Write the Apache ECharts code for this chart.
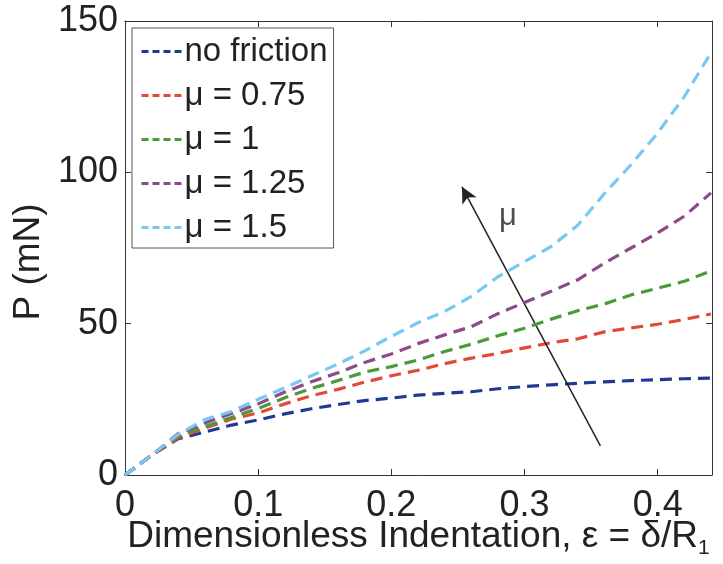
<!DOCTYPE html>
<html>
<head>
<meta charset="utf-8">
<script src="https://cdn.jsdelivr.net/npm/echarts@6/dist/echarts.min.js"></script>
<style>
  html, body { margin: 0; padding: 0; background: #fff; }
  #chart { width: 723px; height: 564px; }
</style>
</head>
<body>
<div id="chart"></div>
<script>
// Indentation strain (shared x positions)
const strain = [0, 0.02, 0.04, 0.06, 0.08, 0.10, 0.12, 0.14, 0.16, 0.18, 0.20, 0.22,
                0.24, 0.26, 0.28, 0.30, 0.32, 0.34, 0.36, 0.38, 0.40, 0.42, 0.44];

// Load P (mN) for each friction case
const loadNoFriction = [0, 6.5, 12, 14.2, 16.5, 18.2, 20.2, 21.9, 23.3, 24.6, 25.4, 26.4,
                        27, 27.5, 28.5, 29.2, 29.8, 30.3, 30.8, 31.2, 31.5, 31.8, 32];
const loadMu075 = [0, 6.5, 12.3, 15.5, 18.5, 20.5, 23.5, 26.2, 28.3, 30.7, 32.8, 34.6,
                   36.8, 38.6, 40.2, 42, 43.7, 45, 47.3, 48.6, 49.8, 51.4, 53.2];
const loadMu1 = [0, 6.5, 13, 16, 19, 22, 25.5, 28.6, 31.2, 34, 35.8, 38,
                 40.8, 43.2, 46, 48.5, 51.5, 54.3, 56.5, 59.5, 61.7, 64, 67.4];
const loadMu125 = [0, 6.5, 13.7, 17.2, 20.3, 23.5, 27.4, 30.8, 33.8, 37.2, 40, 43.4,
                   46.3, 49, 53.3, 57, 60.7, 64.5, 70, 75, 80, 85.5, 93.2];
const loadMu15 = [0, 6.5, 13.5, 18.3, 21, 25, 28.8, 32.8, 36.7, 41, 45.8, 50.3,
                  54, 59, 65.5, 70.5, 75.5, 82.5, 93, 102.5, 113, 125, 139.5];

const seriesNames = ['no friction', 'μ = 0.75', 'μ = 1', 'μ = 1.25', 'μ = 1.5'];
const seriesColors = ['#203a94', '#e24a38', '#4b9a3a', '#8b4a88', '#78c8f6'];
const seriesLoads = [loadNoFriction, loadMu075, loadMu1, loadMu125, loadMu15];

// Axis ticks
const xTicks = { min: 0, max: 0.4408, interval: 0.1 };
const yTicks = { min: 0, max: 150, interval: 50 };

// Trend arrow (direction of increasing friction) and its label, in data units
const arrowFrom = [0.357, 9.6];
const arrowTo = [0.253, 95.2];
const arrowLabelAt = [0.2876, 85.5];
const arrowLabel = 'μ';

const FONT = '"Liberation Sans", Arial, Helvetica, sans-serif';
const axisColor = '#333';

const curveSeries = seriesNames.map((name, i) => ({
  name: name,
  type: 'line',
  xAxisIndex: 0,
  yAxisIndex: 0,
  symbol: 'none',
  smooth: false,
  color: seriesColors[i],
  lineStyle: { width: 3.2, type: [12, 7], color: seriesColors[i] },
  data: strain.map((x, k) => [x, seriesLoads[i][k]]),
  z: 3 + i
}));

const chart = echarts.init(document.getElementById('chart'), null, { renderer: 'canvas' });

const option = {
  backgroundColor: '#fff',
  animation: false,
  textStyle: { fontFamily: FONT },
  grid: { left: 125, right: 11, top: 21, bottom: 89, containLabel: false, outerBoundsMode: 'none' },
  legend: {
    data: seriesNames,
    orient: 'vertical',
    left: 132,
    top: 28,
    padding: [7, 6, 4, 8],
    itemGap: 11,
    itemWidth: 42,
    itemHeight: 14,
    backgroundColor: '#fff',
    borderColor: '#555',
    borderWidth: 1,
    borderRadius: 0,
    itemStyle: { opacity: 0 },
    lineStyle: { width: 3, type: [7, 4] },
    textStyle: { fontFamily: FONT, fontSize: 33, color: '#222', padding: [0, 0, 0, -4] },
    selectedMode: false
  },
  xAxis: [
    {
      type: 'value', position: 'bottom',
      min: xTicks.min, max: xTicks.max, interval: xTicks.interval,
      axisLine: { show: true, onZero: false, lineStyle: { color: axisColor, width: 1 } },
      axisTick: { show: true, inside: true, length: 6, lineStyle: { color: axisColor } },
      splitLine: { show: false },
      axisLabel: { fontSize: 36, color: '#222', margin: 13, showMaxLabel: false, fontFamily: FONT },
      name: '{t|Dimensionless Indentation, ε = δ/R}{s|1}',
      nameLocation: 'middle',
      nameGap: 39,
      nameMoveOverlap: false,
      nameTextStyle: {
        rich: {
          t: { fontSize: 37, color: '#222', fontFamily: FONT },
          s: { fontSize: 21, color: '#222', fontFamily: FONT, padding: [24, 0, 0, 0] }
        }
      }
    },
    {
      type: 'value', position: 'top',
      min: xTicks.min, max: xTicks.max, interval: xTicks.interval,
      axisLine: { show: true, onZero: false, lineStyle: { color: axisColor, width: 1 } },
      axisTick: { show: true, inside: true, length: 6, lineStyle: { color: axisColor } },
      axisLabel: { show: false },
      splitLine: { show: false }
    }
  ],
  yAxis: [
    {
      type: 'value', position: 'left',
      min: yTicks.min, max: yTicks.max, interval: yTicks.interval,
      axisLine: { show: true, onZero: false, lineStyle: { color: axisColor, width: 1 } },
      axisTick: { show: true, inside: true, length: 6, lineStyle: { color: axisColor } },
      splitLine: { show: false },
      axisLabel: { fontSize: 36, color: '#222', margin: 7, fontFamily: FONT },
      name: 'P (mN)',
      nameLocation: 'middle',
      nameGap: 76,
      nameTextStyle: { fontSize: 37, color: '#222', fontFamily: FONT, padding: [0, 28, 0, 0] }
    },
    {
      type: 'value', position: 'right',
      min: yTicks.min, max: yTicks.max, interval: yTicks.interval,
      axisLine: { show: true, onZero: false, lineStyle: { color: axisColor, width: 1 } },
      axisTick: { show: true, inside: true, length: 6, lineStyle: { color: axisColor } },
      axisLabel: { show: false },
      splitLine: { show: false }
    }
  ],
  series: curveSeries.concat([
    {
      name: 'trend',
      type: 'line',
      data: [],
      symbol: 'none',
      markLine: {
        silent: true,
        symbol: ['none', 'arrow'],
        symbolSize: [12, 16],
        label: { show: false },
        lineStyle: { color: '#222', width: 1.5, type: 'solid' },
        emphasis: { disabled: true },
        data: [[{ coord: arrowFrom }, { coord: arrowTo }]]
      },
      z: 10
    },
    {
      name: 'trendLabel',
      type: 'scatter',
      symbolSize: 0,
      silent: true,
      data: [arrowLabelAt],
      label: {
        show: true,
        position: 'inside',
        formatter: arrowLabel,
        fontSize: 31,
        color: '#222',
        fontFamily: FONT
      },
      z: 10
    }
  ])
};

chart.setOption(option);
</script>
</body>
</html>
